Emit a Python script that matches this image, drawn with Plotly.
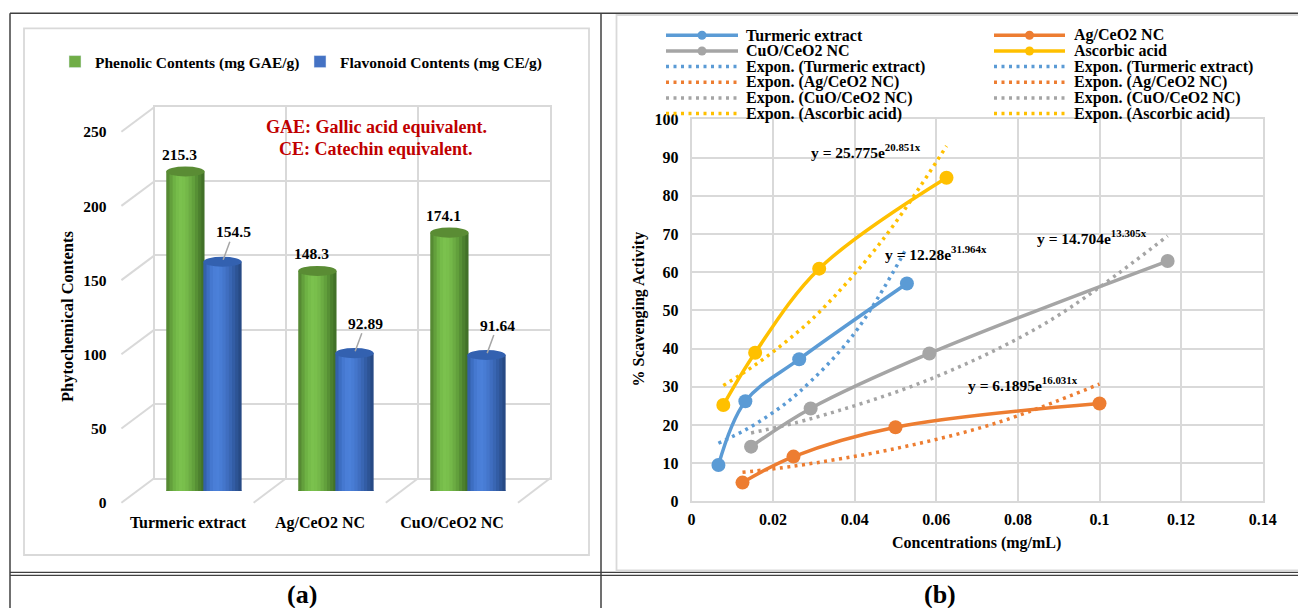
import plotly.graph_objects as go

W, H = 1298, 608
FONT = "Liberation Serif"

# ---------------- Panel (a) data ----------------
categories = ["Turmeric extract", "Ag/CeO2 NC", "CuO/CeO2 NC"]
phenolic = [215.3, 148.3, 174.1]
flavonoid = [154.5, 92.89, 91.64]
phenolic_labels = ["215.3", "148.3", "174.1"]
flavonoid_labels = ["154.5", "92.89", "91.64"]
yticks_a = [0, 50, 100, 150, 200, 250]

# ---------------- Panel (b) data ----------------
turmeric_x = [0.0066, 0.0132, 0.0264, 0.0528]
turmeric_y = [9.5, 26.2, 37.2, 57.0]
ag_x = [0.0125, 0.025, 0.05, 0.1]
ag_y = [4.9, 11.7, 19.4, 25.6]
cuo_x = [0.0146, 0.0292, 0.0583, 0.1167]
cuo_y = [14.3, 24.3, 38.7, 62.9]
asc_x = [0.0078, 0.0156, 0.0313, 0.0625]
asc_y = [25.2, 38.9, 60.9, 84.7]

# exponential trend curves
turmeric_fit_x = [0.0066, 0.0132, 0.0198, 0.0264, 0.0396, 0.0528]
turmeric_fit_y = [15.2, 18.7, 23.1, 28.6, 43.5, 66.4]
ag_fit_x = [0.0125, 0.025, 0.05, 0.075, 0.1]
ag_fit_y = [7.6, 9.2, 13.8, 20.6, 30.7]
cuo_fit_x = [0.0146, 0.0292, 0.0583, 0.0875, 0.1167]
cuo_fit_y = [17.9, 21.6, 31.9, 47.1, 69.5]
asc_fit_x = [0.0078, 0.0156, 0.0234, 0.0313, 0.0469, 0.0625]
asc_fit_y = [30.3, 35.7, 42.0, 49.5, 68.5, 93.0]

eq_asc = "y = 25.775e<sup>20.851x</sup>"
eq_turmeric = "y = 12.28e<sup>31.964x</sup>"
eq_cuo = "y = 14.704e<sup>13.305x</sup>"
eq_ag = "y = 6.1895e<sup>16.031x</sup>"

BLUE, ORANGE, GRAY, YELLOW = "#5B9BD5", "#ED7D31", "#A5A5A5", "#FFC000"


def PX(x):
    return x / W


def PY(y):
    return 1 - y / H


def text_ann(txt, x, y, size=15, color="#000", xanchor="center", angle=0):
    return dict(x=PX(x), y=PY(y), xref="paper", yref="paper", xanchor=xanchor,
                yanchor="middle", text="<b>%s</b>" % txt, showarrow=False,
                textangle=angle, font=dict(family=FONT, size=size, color=color))


fig = go.Figure()
shapes = []
annotations = []

# ================= Panel (a) =================
# back wall (grid) subplot: x/y
fig.add_trace(go.Scatter(x=[None], y=[None], xaxis="x", yaxis="y",
                         showlegend=False, hoverinfo="skip"))

N = 12
BAR_W = 0.29
green_shades = ["#568a33", "#63a03c", "#6eb244", "#76bc4a", "#7bc14e", "#79bf4c",
                "#74b849", "#6cac43", "#62a03c", "#579035", "#4c802e", "#427128"]
blue_shades = ["#3461ab", "#3d6ec2", "#4578d0", "#4a7ed7", "#4b80d9", "#487cd4",
               "#4476cb", "#3f6ec0", "#3966b3", "#335da5", "#2d5495", "#274a85"]
series_a = [
    ("Phenolic Contents (mg GAE/g)", phenolic, green_shades, -0.141, "#5a8c34", "#70AD47"),
    ("Flavonoid Contents (mg CE/g)", flavonoid, blue_shades, 0.14, "#3361b0", "#4472C4"),
]
xs_a = list(range(len(categories)))
slice_w = BAR_W / N
for name, vals, shades, cshift, topcol, legcol in series_a:
    for k in range(N):
        fig.add_trace(go.Bar(
            x=xs_a, y=vals, xaxis="x2", yaxis="y2",
            width=slice_w * (1.7 if k < N - 1 else 1.0),
            offset=cshift - BAR_W / 2 + k * slice_w,
            marker=dict(color=shades[k], line=dict(width=0)),
            name=name, legendgroup=name, showlegend=False, hoverinfo="skip"))
    # legend entry
    fig.add_trace(go.Bar(x=[None], y=[None], xaxis="x2", yaxis="y2",
                         marker=dict(color=legcol), name=name,
                         legendgroup=name, showlegend=True))
    for i, v in enumerate(vals):
        x0 = i + cshift - BAR_W / 2
        x1 = i + cshift + BAR_W / 2
        shapes.append(dict(type="circle", xref="x2", yref="y2", x0=x0, x1=x1,
                           y0=v - 3.4, y1=v + 3.4, fillcolor=topcol,
                           line=dict(width=0), layer="above"))
        shapes.append(dict(type="circle", xref="x2", yref="y2", x0=x0, x1=x1,
                           y0=-3.4, y1=3.4, fillcolor=shades[6],
                           line=dict(width=0), layer="between"))

# data labels
for i, (v, t) in enumerate(zip(phenolic, phenolic_labels)):
    annotations.append(dict(x=i - 0.141, y=v, xref="x2", yref="y2", text="<b>%s</b>" % t,
                            showarrow=False, yshift=17, xshift=-6,
                            font=dict(family=FONT, size=15.5, color="#000")))
for i, (v, t) in enumerate(zip(flavonoid, flavonoid_labels)):
    annotations.append(dict(x=i + 0.14, y=v, xref="x2", yref="y2", text="<b>%s</b>" % t,
                            showarrow=True, arrowhead=0, arrowwidth=1.5,
                            arrowcolor="#a6a6a6", ax=11, ay=-30, standoff=2,
                            font=dict(family=FONT, size=15.5, color="#000")))

annotations.append(text_ann("GAE: Gallic acid equivalent.", 376, 127, 18, "#C00000"))
annotations.append(text_ann("CE: Catechin equivalent.", 376, 149, 18, "#C00000"))
annotations.append(text_ann("Phytochemical Contents", 67, 316, 16.5, angle=-90))

# 3D floor / side diagonals
SC = 1.484
for v in yticks_a:
    shapes.append(dict(type="line", xref="paper", yref="paper",
                       x0=PX(121.4), y0=PY(502.7 - v * SC), x1=PX(154.5), y1=PY(478 - v * SC),
                       line=dict(color="#d9d9d9", width=2), layer="below"))
for k in range(1, len(categories) + 1):
    shapes.append(dict(type="line", xref="paper", yref="paper",
                       x0=PX(121.4 + k * 132.2), y0=PY(502.7), x1=PX(154.5 + k * 132), y1=PY(478),
                       line=dict(color="#d9d9d9", width=2), layer="below"))

# ================= Panel (b) =================
series_b = [
    ("Turmeric extract", turmeric_x, turmeric_y, BLUE),
    ("Ag/CeO2 NC", ag_x, ag_y, ORANGE),
    ("CuO/CeO2 NC", cuo_x, cuo_y, GRAY),
    ("Ascorbic acid", asc_x, asc_y, YELLOW),
]
for name, xs, ys, col in series_b:
    fig.add_trace(go.Scatter(x=xs, y=ys, xaxis="x3", yaxis="y3", mode="lines+markers",
                             line=dict(color=col, width=3.5, shape="spline"),
                             marker=dict(color=col, size=14), name=name, showlegend=False))
fits_b = [
    ("Expon. (Turmeric extract)", turmeric_fit_x, turmeric_fit_y, BLUE),
    ("Expon. (Ag/CeO2 NC)", ag_fit_x, ag_fit_y, ORANGE),
    ("Expon. (CuO/CeO2 NC)", cuo_fit_x, cuo_fit_y, GRAY),
    ("Expon. (Ascorbic acid)", asc_fit_x, asc_fit_y, YELLOW),
]
for name, xs, ys, col in fits_b:
    fig.add_trace(go.Scatter(x=xs, y=ys, xaxis="x3", yaxis="y3", mode="lines",
                             line=dict(color=col, width=3.5, shape="spline", dash="3px,4.5px"),
                             name=name, showlegend=False))

for txt, lx, ly in [(eq_asc, 809, 151), (eq_turmeric, 883, 253),
                    (eq_cuo, 1035, 237), (eq_ag, 966, 384)]:
    annotations.append(text_ann(txt, lx, ly, 15.5, xanchor="left"))

annotations.append(text_ann("% Scavenging Activity", 638.5, 309, 16))
annotations[-1]["textangle"] = -90
annotations.append(text_ann("Concentrations (mg/mL)", 977, 543, 16))

# manual two-column legend for panel (b)
left_col = [series_b[0], series_b[2]] + fits_b
right_col = [series_b[1], series_b[3]] + fits_b
for col_entries, sx0, sx1, tx in [(left_col, 666, 738, 744), (right_col, 994, 1065, 1072)]:
    for r, entry in enumerate(col_entries):
        name, col = entry[0], entry[3]
        yy = 35.3 + r * 15.65
        dotted = name.startswith("Expon")
        shapes.append(dict(type="line", xref="paper", yref="paper",
                           x0=PX(sx0), x1=PX(sx1), y0=PY(yy), y1=PY(yy),
                           line=dict(color=col, width=3.5,
                                     dash="3px,4.5px" if dotted else "solid")))
        if not dotted:
            cx = (sx0 + sx1) / 2
            shapes.append(dict(type="circle", xref="paper", yref="paper",
                               x0=PX(cx - 4.5), x1=PX(cx + 4.5), y0=PY(yy + 4.5), y1=PY(yy - 4.5),
                               fillcolor=col, line=dict(width=0)))
        annotations.append(text_ann(name, tx, yy, 16, xanchor="left"))

# ================= frame =================
DARK = "#404040"
LIGHT = "#d9d9d9"
for (x0, y0, x1, y1, c, w) in [
    (10, 13.3, 1298, 13.3, DARK, 1.5),
    (10, 13.3, 10, 608, DARK, 1.5),
    (601, 13.3, 601, 608, DARK, 1.5),
    (10, 572.3, 1298, 572.3, DARK, 1.3),
    (10, 575.3, 1298, 575.3, DARK, 1.3),
]:
    shapes.append(dict(type="line", xref="paper", yref="paper", x0=PX(x0), y0=PY(y0),
                       x1=PX(x1), y1=PY(y1), line=dict(color=c, width=w)))
shapes.append(dict(type="rect", xref="paper", yref="paper", x0=PX(24), x1=PX(589),
                   y0=PY(555), y1=PY(28.3), line=dict(color=LIGHT, width=1.8)))
shapes.append(dict(type="rect", xref="paper", yref="paper", x0=PX(616.5), x1=PX(1310),
                   y0=PY(570.5), y1=PY(15), line=dict(color=LIGHT, width=1.8)))

annotations.append(text_ann("(a)", 302, 594, 26))
annotations.append(text_ann("(b)", 940, 594, 26))

tickfont = dict(family=FONT, size=15.5, color="#000", weight="bold")
catfont = dict(family=FONT, size=16, color="#000", weight="bold")
tickfont_b = dict(family=FONT, size=16, color="#000", weight="bold")

fig.update_layout(
    width=W, height=H, margin=dict(l=0, r=0, t=0, b=0, autoexpand=False),
    paper_bgcolor="white", plot_bgcolor="rgba(0,0,0,0)",
    barmode="overlay", showlegend=True,
    legend=dict(orientation="h", x=PX(55), y=PY(62), xanchor="left", yanchor="middle",
                font=dict(family=FONT, size=15.5, color="#000", weight="bold"),
                bgcolor="rgba(0,0,0,0)", entrywidth=200, itemclick=False),
    # back wall
    xaxis=dict(domain=[PX(154.5), PX(550)], range=[0, 3], tickvals=[0, 1, 2, 3],
               showticklabels=False, showgrid=True, gridcolor=LIGHT, gridwidth=2,
               zeroline=False, showline=True, mirror=True, linecolor=LIGHT, linewidth=2,
               anchor="y", fixedrange=True),
    yaxis=dict(domain=[PY(478), PY(107)], range=[0, 250], tickvals=yticks_a,
               showgrid=True, gridcolor=LIGHT, gridwidth=2, zeroline=False,
               showline=True, mirror=True, linecolor=LIGHT, linewidth=2,
               tickfont=tickfont, ticks="", ticklabelshift=25, ticklabelstandoff=43,
               anchor="x", fixedrange=True),
    # bars
    xaxis2=dict(domain=[PX(138), PX(534)], range=[-0.5, 2.5], tickvals=xs_a,
                ticktext=categories, tickfont=catfont, ticks="",
                ticklabelshift=-16, ticklabelstandoff=20,
                showgrid=False, zeroline=False, showline=False, anchor="y2", fixedrange=True),
    yaxis2=dict(domain=[PY(491), PY(120)], range=[0, 250], visible=False,
                anchor="x2", fixedrange=True),
    # panel (b)
    xaxis3=dict(domain=[PX(691.5), PX(1262.7)], range=[0, 0.14], tick0=0, dtick=0.02,
                showgrid=True, gridcolor=LIGHT, gridwidth=1.5, zeroline=False,
                showline=True, mirror=True, linecolor=LIGHT, linewidth=1.5,
                tickfont=tickfont_b, ticks="", ticklabelstandoff=3,
                anchor="y3", fixedrange=True),
    yaxis3=dict(domain=[PY(501.3), PY(119.3)], range=[0, 100], tick0=0, dtick=10,
                showgrid=True, gridcolor=LIGHT, gridwidth=1.5, zeroline=False,
                showline=True, mirror=True, linecolor=LIGHT, linewidth=1.5,
                tickfont=tickfont_b, ticks="", ticklabelstandoff=8,
                anchor="x3", fixedrange=True),
    shapes=shapes, annotations=annotations,
)

fig.write_html("out.html", config={"displayModeBar": False},
               post_script="document.body.style.margin='0px';document.body.style.overflow='hidden';")
